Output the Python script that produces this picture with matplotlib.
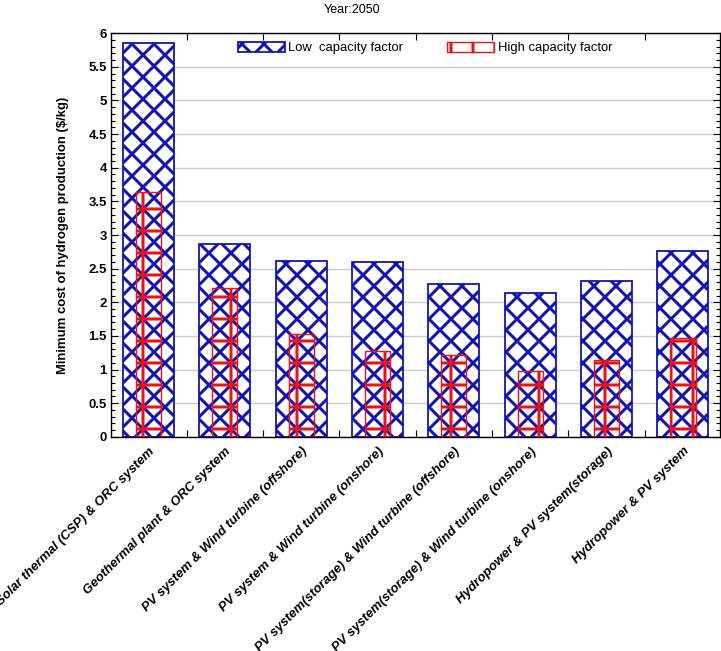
import matplotlib.pyplot as plt
import numpy as np
from matplotlib.ticker import MultipleLocator, FixedLocator

# dpi picked so the hatch spacing matches the original pattern size
DPI = 132
K = 100 / DPI  # keep sizes as if drawn at 100 dpi

plt.rcParams['font.family'] = ['Liberation Sans', 'DejaVu Sans']
plt.rcParams['hatch.linewidth'] = 1.65

categories = [
    "Solar thermal (CSP) & ORC system",
    "Geothermal plant & ORC system",
    "PV system & Wind turbine (offshore)",
    "PV system & Wind turbine (onshore)",
    "PV system(storage) & Wind turbine (offshore)",
    "PV system(storage) & Wind turbine (onshore)",
    "Hydropower & PV system(storage)",
    "Hydropower & PV system",
]
low_cf = [5.85, 2.87, 2.61, 2.60, 2.27, 2.14, 2.32, 2.76]
high_cf = [3.64, 2.21, 1.53, 1.28, 1.22, 0.98, 1.14, 1.47]
yticks = np.arange(0, 6.01, 0.5)

blue = '#1414b4'
red = '#f01010'

fig = plt.figure(figsize=(721 / DPI, 651 / DPI), dpi=DPI)
ax = fig.add_axes([0.154, 0.329, 0.844, 0.620])

x = np.arange(1, len(categories) + 1)
ax.bar(x, low_cf, width=0.67, color='white', edgecolor=blue, hatch='xx',
       linewidth=1.3 * K, zorder=2, label='Low  capacity factor')
ax.bar(x, high_cf, width=0.33, color='none', edgecolor=red, hatch='+',
       linewidth=1.0 * K, zorder=3, label='High capacity factor')

ax.set_xlim(0.51, 8.48)
ax.set_ylim(0, 6)
ax.set_yticks(yticks)
ax.set_yticklabels([f"{v:g}" for v in yticks], fontweight='bold', fontsize=9.5 * K)
ax.yaxis.set_minor_locator(MultipleLocator(0.1))
ax.set_xticks(x)
ax.set_xticklabels(categories, rotation=45, ha='right', rotation_mode='anchor',
                   fontsize=9.5 * K, fontweight='bold', fontstyle='italic')
ax.xaxis.set_minor_locator(FixedLocator(x[:-1] + 0.5))
ax.tick_params(axis='x', which='major', length=0, pad=6 * K)
ax.tick_params(axis='x', which='minor', direction='in', length=5 * K,
               width=0.8 * K, top=True, bottom=True)
ax.tick_params(axis='y', which='both', direction='in', left=True, right=True,
               width=0.8 * K)
ax.tick_params(axis='y', which='major', length=5 * K, pad=3 * K)
ax.tick_params(axis='y', which='minor', length=3 * K)
for s in ax.spines.values():
    s.set_linewidth(1.0 * K)

ax.grid(axis='y', which='major', color='#cccccc', linewidth=1.0 * K, zorder=0)
ax.set_axisbelow(True)

ax.set_ylabel('Minimum cost of hydrogen production ($/kg)', fontsize=9.5 * K,
              fontweight='bold', labelpad=14 * K)
fig.text(0.488, 0.985, 'Year:2050', fontsize=9 * K, ha='center', va='center')

ax.legend(loc='center', bbox_to_anchor=(0.516, 0.963), ncol=2, frameon=False,
          fontsize=9.4 * K, handlelength=3.6, handleheight=0.85,
          columnspacing=3.4, handletextpad=0.25, borderaxespad=0, borderpad=0)

fig.savefig('out.png', dpi=DPI)
